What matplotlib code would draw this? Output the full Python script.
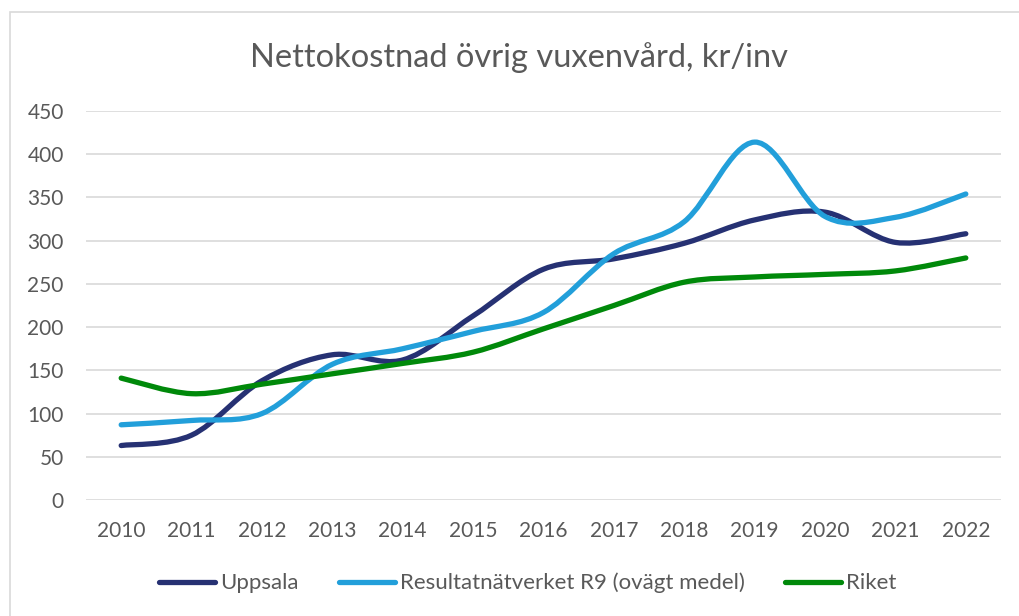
import matplotlib
matplotlib.use("Agg")
import matplotlib.pyplot as plt
import numpy as np
from matplotlib.path import Path
from matplotlib.patches import PathPatch, Rectangle
from matplotlib.lines import Line2D

years = ["2010", "2011", "2012", "2013", "2014", "2015", "2016",
         "2017", "2018", "2019", "2020", "2021", "2022"]
uppsala = [63, 75, 138, 168, 162, 213, 267, 279, 297, 324, 333, 298, 308]
r9 = [87, 92, 100, 157, 175, 195, 217, 285, 322, 414, 328, 327, 354]
riket = [141, 123, 134, 146, 158, 171, 198, 225, 252, 258, 261, 265, 280]

series = [
    ("Uppsala", uppsala, "#263173"),
    ("Resultatnätverket R9 (ovägt medel)", r9, "#229FDA"),
    ("Riket", riket, "#00890A"),
]

plt.rcParams['font.family'] = ['Lato', 'DejaVu Sans']

fig = plt.figure(figsize=(10.19, 6.16), dpi=100)
fig.patches.append(Rectangle((10/1019, -0.1), 1.2, 1 - 12/616 + 0.1,
                             transform=fig.transFigure, fill=False,
                             edgecolor="#d9d9d9", linewidth=1.2))
ax = fig.add_axes([86/1019, 1 - 500/616, (1001 - 86)/1019, (500 - 111)/616])


def smooth_path(xs, ys):
    xs = np.asarray(xs, float)
    ys = np.asarray(ys, float)
    n = len(xs)
    verts = [(xs[0], ys[0])]
    codes = [Path.MOVETO]
    for i in range(n - 1):
        p0 = np.array([xs[max(i - 1, 0)], ys[max(i - 1, 0)]])
        p1 = np.array([xs[i], ys[i]])
        p2 = np.array([xs[i + 1], ys[i + 1]])
        p3 = np.array([xs[min(i + 2, n - 1)], ys[min(i + 2, n - 1)]])
        c1 = p1 + (p2 - p0) / 6.0
        c2 = p2 - (p3 - p1) / 6.0
        verts += [tuple(c1), tuple(c2), tuple(p2)]
        codes += [Path.CURVE4] * 3
    return Path(verts, codes)


x = np.arange(len(years))
handles = []
for name, vals, col in series:
    patch = PathPatch(smooth_path(x, vals), facecolor="none", edgecolor=col,
                      linewidth=3.8, capstyle="round", joinstyle="round", zorder=3)
    ax.add_patch(patch)
    handles.append(Line2D([], [], color=col, linewidth=3.8,
                          solid_capstyle="round", label=name))

ax.set_xlim(-0.5, len(years) - 0.5)
ax.set_ylim(0, 450)
ax.set_yticks(np.arange(0, 451, 50))
ax.set_xticks(x)
ax.set_xticklabels(years)
ax.grid(axis="y", color="#d9d9d9", linewidth=1.2)
ax.set_axisbelow(True)
for s in ax.spines.values():
    s.set_visible(False)
ax.tick_params(length=0, labelsize=15, colors="#595959")
ax.tick_params(axis="y", pad=16)
ax.tick_params(axis="x", pad=15)

fig.text(519/1019, 1 - 58/616, "Nettokostnad övrig vuxenvård, kr/inv",
         ha="center", va="center", fontsize=23.5, color="#595959")

fig.legend(handles=handles, loc="center", bbox_to_anchor=(528/1019, 1 - 583/616),
           ncol=3, frameon=False, fontsize=16, labelcolor="#595959",
           handlelength=2.5, handletextpad=0.25, columnspacing=1.8)

fig.savefig("out.png", dpi=100)
